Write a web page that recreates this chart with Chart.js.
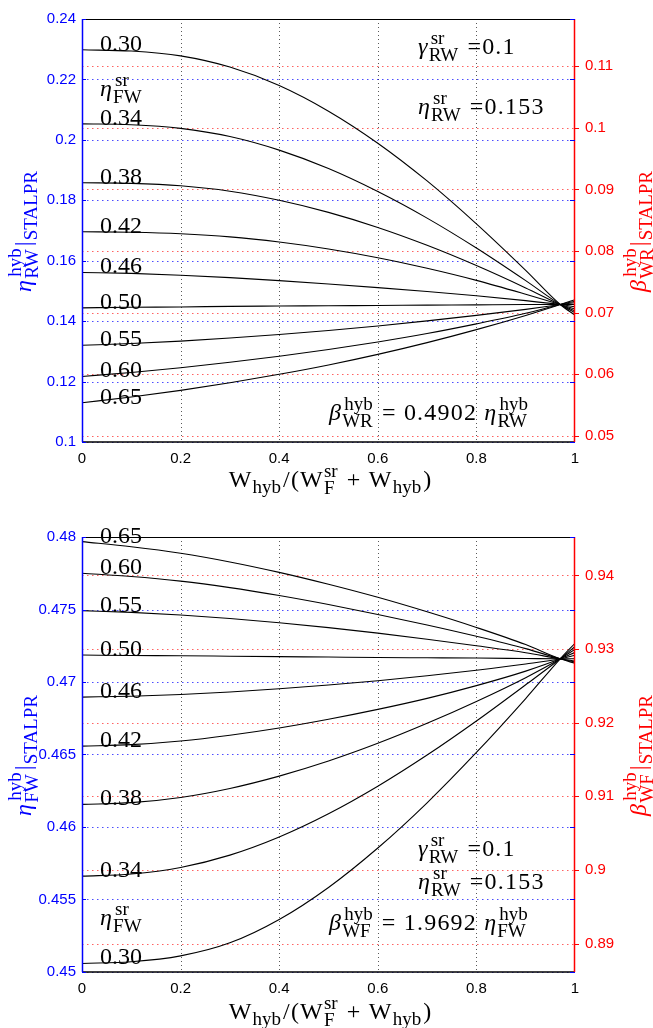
<!DOCTYPE html>
<html><head><meta charset="utf-8">
<script src="https://cdn.jsdelivr.net/npm/chart.js@4.4.0/dist/chart.umd.min.js"></script>
<style>
html,body{margin:0;padding:0;background:#fff;overflow:hidden;}
#w1{position:absolute;left:0;top:0;width:653px;height:511px;}
#w2{position:absolute;left:0;top:511px;width:653px;height:517px;}
</style></head><body>
<div id="w1"><canvas id="c1"></canvas></div>
<div id="w2"><canvas id="c2"></canvas></div>
<script>
// ---------- data ----------
const xValues = [0, 0.1, 0.2, 0.3, 0.4, 0.5, 0.6, 0.7, 0.8, 0.9, 0.97, 1];
const seriesNames = ['0.30','0.34','0.38','0.42','0.46','0.50','0.55','0.60','0.65'];

// top panel: eta_RW^hyb
const topEta030 = [0.2298,0.2294,0.2278,0.2241,0.2180,0.2095,0.1989,0.1864,0.1722,0.1568,0.1455,0.1420];
const topEta034 = [0.2053,0.2050,0.2038,0.2011,0.1966,0.1905,0.1829,0.1741,0.1642,0.1534,0.1455,0.1428];
const topEta038 = [0.1858,0.1856,0.1848,0.1830,0.1800,0.1760,0.1710,0.1651,0.1584,0.1510,0.1455,0.1434];
const topEta042 = [0.1696,0.1694,0.1689,0.1679,0.1662,0.1639,0.1610,0.1575,0.1535,0.1489,0.1455,0.1440];
const topEta046 = [0.1561,0.1558,0.1552,0.1544,0.1534,0.1523,0.1511,0.1498,0.1484,0.1468,0.1455,0.1448];
const topEta050 = [0.1444,0.1446,0.1447,0.1449,0.1450,0.1451,0.1452,0.1453,0.1454,0.1455,0.1455,0.1455];
const topEta055 = [0.1320,0.1326,0.1334,0.1344,0.1356,0.1369,0.1384,0.1401,0.1419,0.1439,0.1455,0.1461];
const topEta060 = [0.1217,0.1230,0.1246,0.1264,0.1284,0.1306,0.1331,0.1359,0.1391,0.1426,0.1455,0.1466];
const topEta065 = [0.1130,0.1149,0.1171,0.1196,0.1224,0.1255,0.1290,0.1329,0.1372,0.1419,0.1455,0.1471];

// bottom panel: eta_FW^hyb
const botEta030 = [0.45059,0.45071,0.45111,0.45201,0.45362,0.45583,0.45855,0.46167,0.46514,0.46886,0.47160,0.47267];
const botEta034 = [0.45661,0.45676,0.45721,0.45806,0.45931,0.46091,0.46281,0.46496,0.46731,0.46981,0.47160,0.47245];
const botEta038 = [0.46156,0.46168,0.46204,0.46266,0.46351,0.46455,0.46577,0.46715,0.46866,0.47030,0.47160,0.47225];
const botEta042 = [0.46558,0.46568,0.46593,0.46633,0.46683,0.46743,0.46811,0.46887,0.46975,0.47075,0.47160,0.47205];
const botEta046 = [0.46896,0.46902,0.46914,0.46931,0.46953,0.46979,0.47009,0.47043,0.47081,0.47124,0.47160,0.47185];
const botEta050 = [0.47186,0.47183,0.47181,0.47178,0.47175,0.47172,0.47169,0.47167,0.47165,0.47162,0.47160,0.47160];
const botEta055 = [0.47492,0.47480,0.47462,0.47438,0.47409,0.47375,0.47337,0.47295,0.47250,0.47202,0.47160,0.47145];
const botEta060 = [0.47750,0.47728,0.47696,0.47651,0.47596,0.47534,0.47466,0.47393,0.47315,0.47230,0.47160,0.47137];
const botEta065 = [0.47968,0.47933,0.47888,0.47828,0.47756,0.47674,0.47584,0.47484,0.47376,0.47258,0.47160,0.47129];

// ticks
const xTickValues = [0, 0.2, 0.4, 0.6, 0.8, 1];
const xTickLabels = ['0','0.2','0.4','0.6','0.8','1'];
const topLeftTicks  = [0.10,0.12,0.14,0.16,0.18,0.20,0.22,0.24];
const topLeftLabels = ['0.1','0.12','0.14','0.16','0.18','0.2','0.22','0.24'];
const topRightTicks  = [0.05,0.06,0.07,0.08,0.09,0.10,0.11];
const topRightLabels = ['0.05','0.06','0.07','0.08','0.09','0.1','0.11'];
const botLeftTicks  = [0.450,0.455,0.460,0.465,0.470,0.475,0.480];
const botLeftLabels = ['0.45','0.455','0.46','0.465','0.47','0.475','0.48'];
const botRightTicks  = [0.89,0.90,0.91,0.92,0.93,0.94];
const botRightLabels = ['0.89','0.9','0.91','0.92','0.93','0.94'];
const topRatio = 0.4902;
const botRatio = 1.9692;
const topRange = [0.10, 0.24];
const botRange = [0.45, 0.48];

// ---------- drawing helpers ----------
const SERIF = '"Liberation Serif","DejaVu Serif",serif';
const SANS = '"Liberation Sans","DejaVu Sans",sans-serif';
const MAIN = 24, SCR = 19, LS = 1.2, SGAP = 2;
function fnt(size, it){ return (it ? 'italic ' : '') + size + 'px ' + SERIF; }
function mainW(ctx, t){ let w = 0; for (const c of t) w += ctx.measureText(c).width + LS; return w; }
function richWidth(ctx, parts){
  let w = 0;
  for (const p of parts){
    if (p.t !== undefined){ ctx.font = fnt(MAIN, p.it); w += mainW(ctx, p.t); }
    else {
      ctx.font = fnt(SCR, false);
      const a = p.sup ? ctx.measureText(p.sup).width + (p.shift || 0) : 0;
      const b = p.sub ? ctx.measureText(p.sub).width : 0;
      w += Math.max(a, b) + SGAP;
    }
  }
  return w;
}
function richDraw(ctx, parts, x, y, align){
  if (align === 'center') x -= richWidth(ctx, parts) / 2;
  ctx.textAlign = 'left'; ctx.textBaseline = 'alphabetic';
  for (const p of parts){
    if (p.t !== undefined){
      ctx.font = fnt(MAIN, p.it);
      for (const c of p.t){ ctx.fillText(c, x, y); x += ctx.measureText(c).width + LS; }
    } else {
      ctx.font = fnt(SCR, false);
      const both = p.sup && p.sub;
      let a = 0, b = 0;
      if (p.sup){ ctx.fillText(p.sup, x + (p.shift || 0), y - (both ? 10 : 9)); a = ctx.measureText(p.sup).width + (p.shift || 0); }
      if (p.sub){ ctx.fillText(p.sub, x, y + (both ? 7 : 6)); b = ctx.measureText(p.sub).width; }
      x += Math.max(a, b) + SGAP;
    }
  }
}
function dotted(ctx, x0, y0, x1, y1, color, dash){
  ctx.save(); ctx.strokeStyle = color; ctx.lineWidth = 1; ctx.setLineDash(dash);
  ctx.beginPath(); ctx.moveTo(x0, y0); ctx.lineTo(x1, y1); ctx.stroke(); ctx.restore();
}
function solid(ctx, x0, y0, x1, y1, color, w){
  ctx.save(); ctx.strokeStyle = color; ctx.lineWidth = w; ctx.setLineDash([]);
  ctx.beginPath(); ctx.moveTo(x0, y0); ctx.lineTo(x1, y1); ctx.stroke(); ctx.restore();
}

function makeChart(canvasId, cfg){
  const datasets = cfg.series.map((arr, i) => ({
    label: seriesNames[i],
    data: xValues.map((x, j) => ({ x: x, y: arr[j] })),
    borderColor: '#000', borderWidth: 1.1, pointRadius: 0, fill: false,
    cubicInterpolationMode: 'monotone', yAxisID: 'y'
  }));
  const decor = {
    id: 'decor',
    beforeDatasetsDraw(chart){
      const ctx = chart.ctx, a = chart.chartArea, sx = chart.scales.x, sy = chart.scales.y, sy2 = chart.scales.y2;
      xTickValues.forEach(v => { const px = Math.round(sx.getPixelForValue(v)) + 0.5;
        if (v > 0 && v < 1) dotted(ctx, px, a.top, px, a.bottom, 'rgba(60,60,60,0.85)', [1, 3]); });
      cfg.leftTicks.forEach(v => { const py = Math.round(sy.getPixelForValue(v)) + 0.5;
        dotted(ctx, a.left, py, a.right, py, 'rgba(0,0,255,0.7)', [1.5, 3.5]); });
      cfg.rightTicks.forEach(v => { const py = Math.round(sy2.getPixelForValue(v)) + 0.5;
        dotted(ctx, a.left, py, a.right, py, 'rgba(255,30,30,0.7)', [1.5, 3.5]); });
    },
    afterDatasetsDraw(chart){
      const ctx = chart.ctx, a = chart.chartArea, sx = chart.scales.x, sy = chart.scales.y, sy2 = chart.scales.y2;
      // borders
      solid(ctx, a.left, a.top + 0.5, a.right, a.top + 0.5, '#000', 1);
      solid(ctx, a.left, a.bottom, a.right, a.bottom, '#000', 1.6);
      solid(ctx, a.left + 0.5, a.top, a.left + 0.5, a.bottom, '#0000ff', 1.5);
      solid(ctx, a.right - 0.5, a.top, a.right - 0.5, a.bottom, '#ff0000', 1.5);
      // tick marks
      cfg.leftTicks.forEach(v => { const py = Math.round(sy.getPixelForValue(v)) + 0.5;
        solid(ctx, a.left, py, a.left + 4, py, '#0000ff', 1);
        solid(ctx, a.right - 5, py, a.right, py, '#0000ff', 1); });
      cfg.rightTicks.forEach(v => { const py = Math.round(sy2.getPixelForValue(v)) + 0.5;
        solid(ctx, a.right, py, a.right + 4, py, '#ff0000', 1); });
      // curve labels
      ctx.save(); ctx.fillStyle = '#000';
      cfg.series.forEach((arr, i) => {
        ctx.font = fnt(MAIN, false); ctx.textAlign = 'left'; ctx.textBaseline = 'alphabetic';
        ctx.fillText(seriesNames[i], sx.getPixelForValue(0.0365), sy.getPixelForValue(arr[0]) + 1);
      });
      // annotations
      cfg.notes.forEach(n => richDraw(ctx, n.parts, sx.getPixelForValue(n.x), sy.getPixelForValue(n.y), 'left'));
      // axis titles
      const cy = (a.top + a.bottom) / 2;
      ctx.fillStyle = '#0000ff';
      ctx.save(); ctx.translate(31, cy); ctx.rotate(-Math.PI / 2); richDraw(ctx, cfg.leftTitle, 0, 0, 'center'); ctx.restore();
      ctx.fillStyle = '#ff0000';
      ctx.save(); ctx.translate(646, cy); ctx.rotate(-Math.PI / 2); richDraw(ctx, cfg.rightTitle, 0, 0, 'center'); ctx.restore();
      ctx.fillStyle = '#000';
      richDraw(ctx, [{t:'W'},{sub:'hyb'},{t:'/(W'},{sup:'sr',sub:'F'},{t:' + W'},{sub:'hyb'},{t:')'}],
               (a.left + a.right) / 2 + 2, a.bottom + cfg.xTitleOffset, 'center');
      ctx.restore();
    }
  };
  const tickFont = { family: SANS, size: 15 };
  return new Chart(document.getElementById(canvasId), {
    type: 'line',
    data: { datasets },
    options: {
      responsive: true, maintainAspectRatio: false, animation: false,
      layout: { padding: { top: cfg.areaTop, left: 0, right: 0, bottom: 0 } },
      plugins: { legend: { display: false }, tooltip: { enabled: false } },
      scales: {
        x: { type: 'linear', min: 0, max: 1, position: 'bottom',
          afterBuildTicks: s => { s.ticks = xTickValues.map(v => ({ value: v })); },
          afterFit: s => { s.height = cfg.xAxisH; },
          grid: { display: false, drawTicks: false }, border: { display: false },
          ticks: { color: '#000', font: tickFont, padding: 8, maxRotation: 0, autoSkip: false,
                   callback: (v, i) => xTickLabels[i] } },
        y: { type: 'linear', position: 'left', min: cfg.range[0], max: cfg.range[1],
          afterBuildTicks: s => { s.ticks = cfg.leftTicks.map(v => ({ value: v })); },
          afterFit: s => { s.width = 82; },
          grid: { display: false, drawTicks: false }, border: { display: false },
          ticks: { color: '#0000ff', font: tickFont, padding: 6, autoSkip: false,
                   callback: (v, i) => cfg.leftLabels[i] } },
        y2: { type: 'linear', position: 'right', display: true,
          min: cfg.range[0] * cfg.ratio, max: cfg.range[1] * cfg.ratio,
          afterBuildTicks: s => { s.ticks = cfg.rightTicks.map(v => ({ value: v })); },
          afterFit: s => { s.width = 78; },
          grid: { display: false, drawTicks: false }, border: { display: false },
          ticks: { color: '#ff0000', font: tickFont, padding: 10, autoSkip: false,
                   callback: (v, i) => cfg.rightLabels[i] } }
      }
    },
    plugins: [decor]
  });
}

makeChart('c1', {
  series: [topEta030, topEta034, topEta038, topEta042, topEta046, topEta050, topEta055, topEta060, topEta065],
  range: topRange, ratio: topRatio,
  leftTicks: topLeftTicks, leftLabels: topLeftLabels,
  rightTicks: topRightTicks, rightLabels: topRightLabels,
  areaTop: 15, xAxisH: 69, xTitleOffset: 45,
  leftTitle: [{t:'η', it:true},{sup:'hyb', sub:'RW', shift:2},{t:'|'},{sub:'STALPR'}],
  rightTitle: [{t:'β', it:true},{sup:'hyb', sub:'WR', shift:2},{t:'|'},{sub:'STALPR'}],
  notes: [
    { x: 0.0365, y: 0.2144, parts: [{t:'η', it:true},{sup:'sr', sub:'FW', shift:2}] },
    { x: 0.6815, y: 0.2285, parts: [{t:'γ', it:true},{sup:'sr', sub:'RW', shift:2},{t:' =0.1'}] },
    { x: 0.6815, y: 0.2086, parts: [{t:'η', it:true},{sup:'sr', sub:'RW', shift:2},{t:' =0.153'}] },
    { x: 0.501,  y: 0.1072, parts: [{t:'β', it:true},{sup:'hyb', sub:'WR', shift:2},{t:' = 0.4902 '},{t:'η', it:true},{sup:'hyb', sub:'RW', shift:2}] }
  ]
});

makeChart('c2', {
  series: [botEta030, botEta034, botEta038, botEta042, botEta046, botEta050, botEta055, botEta060, botEta065],
  range: botRange, ratio: botRatio,
  leftTicks: botLeftTicks, leftLabels: botLeftLabels,
  rightTicks: botRightTicks, rightLabels: botRightLabels,
  areaTop: 26, xAxisH: 56, xTitleOffset: 47,
  leftTitle: [{t:'η', it:true},{sup:'hyb', sub:'FW', shift:2},{t:'|'},{sub:'STALPR'}],
  rightTitle: [{t:'β', it:true},{sup:'hyb', sub:'WF', shift:2},{t:'|'},{sub:'STALPR'}],
  notes: [
    { x: 0.0365, y: 0.45324, parts: [{t:'η', it:true},{sup:'sr', sub:'FW', shift:2}] },
    { x: 0.6815, y: 0.4580, parts: [{t:'γ', it:true},{sup:'sr', sub:'RW', shift:2},{t:' =0.1'}] },
    { x: 0.6815, y: 0.4557, parts: [{t:'η', it:true},{sup:'sr', sub:'RW', shift:2},{t:' =0.153'}] },
    { x: 0.501,  y: 0.4529, parts: [{t:'β', it:true},{sup:'hyb', sub:'WF', shift:2},{t:' = 1.9692 '},{t:'η', it:true},{sup:'hyb', sub:'FW', shift:2}] }
  ]
});
</script>
</body></html>
